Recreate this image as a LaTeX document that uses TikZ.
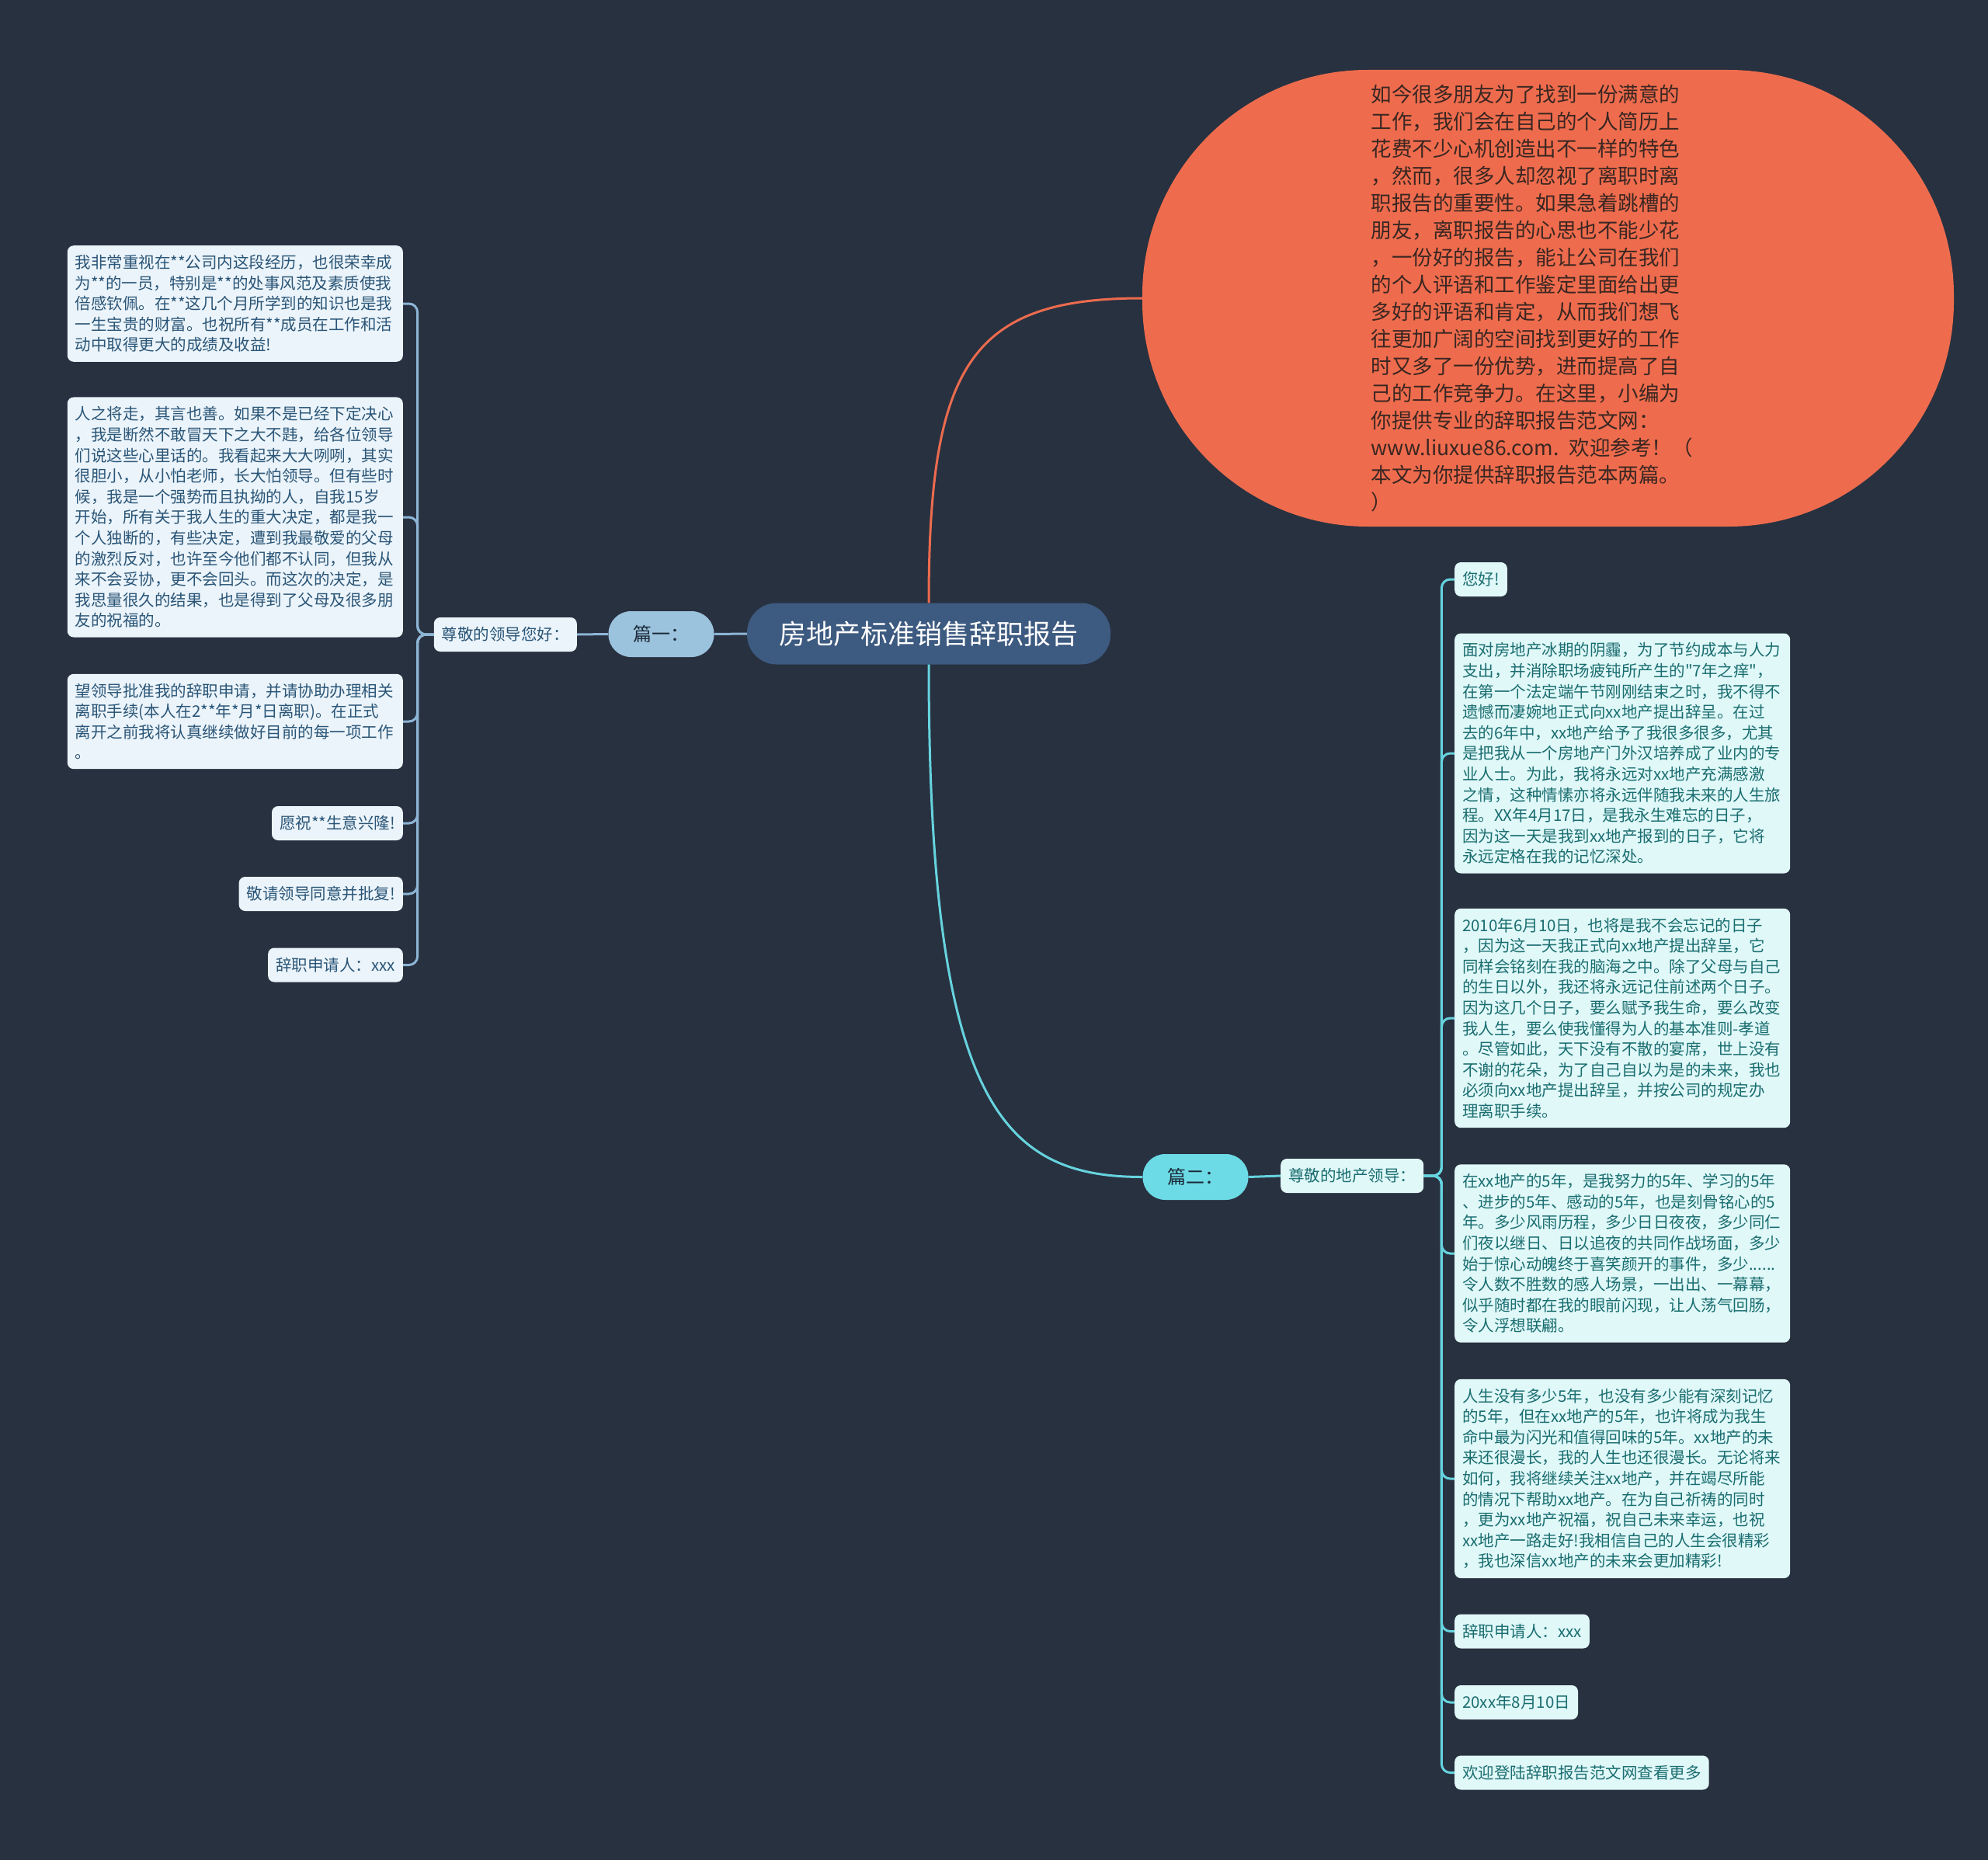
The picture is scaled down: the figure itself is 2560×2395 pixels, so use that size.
\documentclass[tikz,border=0pt]{standalone}
\usepackage{fontspec}
\setmainfont{Noto Sans CJK SC}[Ligatures=TeXOff]
\definecolor{bg}{HTML}{283140}
\definecolor{cfill}{HTML}{3D5A80}
\definecolor{p1fill}{HTML}{9CC3DE}
\definecolor{p2fill}{HTML}{6CDBE6}
\definecolor{ofill}{HTML}{EE6C4D}
\definecolor{otext}{HTML}{3A2622}
\definecolor{lfill}{HTML}{EBF4FA}
\definecolor{ltext}{HTML}{2A5577}
\definecolor{rfill}{HTML}{E0F8F8}
\definecolor{rtext}{HTML}{1A6D70}
\definecolor{lconn}{HTML}{8DB5D5}
\definecolor{rconn}{HTML}{66D3DE}
\definecolor{oconn}{HTML}{EC6B4E}
\definecolor{ptext}{HTML}{1C2A38}
\begin{document}
\begin{tikzpicture}[x=1pt,y=-1pt,
  leafbase/.style={rounded corners=8, font=\fontsize{20.5}{26.6}\selectfont, inner xsep=10, inner ysep=12, align=left},
  leafL/.style={leafbase, fill=lfill, text=ltext},
  leafR/.style={leafbase, fill=rfill, text=rtext},
  longbox/.style={text width=412},
  shortbox/.style={minimum height=44, inner ysep=0},
  topic/.style={fill=cfill, text=white, rounded corners=38, font=\fontsize{35}{40}\selectfont, minimum width=468, minimum height=79, inner sep=0},
  partbox/.style={text=ptext, rounded corners=29, font=\fontsize{24}{28}\selectfont, minimum width=136, minimum height=59, inner sep=0},
  lline/.style={draw=lconn, line width=3, rounded corners=11},
  rline/.style={draw=rconn, line width=3, rounded corners=11},
]
\useasboundingbox (0,0) rectangle (2560,2395);
\fill[bg] (0,0) rectangle (2560,2395);

% central
\node[topic] (c) at (1196,816) {房地产标准销售辞职报告};

% left branch
\node[partbox, fill=p1fill] (p1) at (851.5,816.5) {篇一：};
\node[leafL, shortbox, anchor=east] (lp) at (743,817) {尊敬的领导您好：};

\node[leafL, longbox, anchor=east] (l1) at (519,391) {我非常重视在**公司内这段经历，也很荣幸成\\为**的一员，特别是**的处事风范及素质使我\\倍感钦佩。在**这几个月所学到的知识也是我\\一生宝贵的财富。也祝所有**成员在工作和活\\动中取得更大的成绩及收益!};
\node[leafL, longbox, anchor=east] (l2) at (519,666) {人之将走，其言也善。如果不是已经下定决心\\，我是断然不敢冒天下之大不韪，给各位领导\\们说这些心里话的。我看起来大大咧咧，其实\\很胆小，从小怕老师，长大怕领导。但有些时\\候，我是一个强势而且执拗的人，自我15岁\\开始，所有关于我人生的重大决定，都是我一\\个人独断的，有些决定，遭到我最敬爱的父母\\的激烈反对，也许至今他们都不认同，但我从\\来不会妥协，更不会回头。而这次的决定，是\\我思量很久的结果，也是得到了父母及很多朋\\友的祝福的。};
\node[leafL, longbox, anchor=east] (l3) at (519,929) {望领导批准我的辞职申请，并请协助办理相关\\离职手续(本人在2**年*月*日离职)。在正式\\离开之前我将认真继续做好目前的每一项工作\\。};
\node[leafL, shortbox, anchor=east] (l4) at (519,1060) {愿祝**生意兴隆!};
\node[leafL, shortbox, anchor=east] (l5) at (519,1151) {敬请领导同意并批复!};
\node[leafL, shortbox, anchor=east] (l6) at (519,1242.5) {辞职申请人：xxx};

% orange intro
\node[fill=ofill, text=otext, rounded corners=290, minimum width=1045, minimum height=588, inner sep=0, text width=456, align=left, font=\fontsize{26.5}{35}\selectfont] (ob) at (1993.5,384) {如今很多朋友为了找到一份满意的\\工作，我们会在自己的个人简历上\\花费不少心机创造出不一样的特色\\，然而，很多人却忽视了离职时离\\职报告的重要性。如果急着跳槽的\\朋友，离职报告的心思也不能少花\\，一份好的报告，能让公司在我们\\的个人评语和工作鉴定里面给出更\\多好的评语和肯定，从而我们想飞\\往更加广阔的空间找到更好的工作\\时又多了一份优势，进而提高了自\\己的工作竞争力。在这里，小编为\\你提供专业的辞职报告范文网：\\www.liuxue86.com. 欢迎参考！（\\本文为你提供辞职报告范本两篇。\\）};

% right branch
\node[partbox, fill=p2fill] (p2) at (1539.5,1515.5) {篇二：};
\node[leafR, shortbox, anchor=west] (rp) at (1649,1514) {尊敬的地产领导：};

\node[leafR, shortbox, anchor=west] (r1) at (1873,746) {您好!};
\node[leafR, longbox, anchor=west] (r2) at (1873,970) {面对房地产冰期的阴霾，为了节约成本与人力\\支出，并消除职场疲钝所产生的"7年之痒"，\\在第一个法定端午节刚刚结束之时，我不得不\\遗憾而凄婉地正式向xx地产提出辞呈。在过\\去的6年中，xx地产给予了我很多很多，尤其\\是把我从一个房地产门外汉培养成了业内的专\\业人士。为此，我将永远对xx地产充满感激\\之情，这种情愫亦将永远伴随我未来的人生旅\\程。XX年4月17日，是我永生难忘的日子，\\因为这一天是我到xx地产报到的日子，它将\\永远定格在我的记忆深处。};
\node[leafR, longbox, anchor=west] (r3) at (1873,1311) {2010年6月10日，也将是我不会忘记的日子\\，因为这一天我正式向xx地产提出辞呈，它\\同样会铭刻在我的脑海之中。除了父母与自己\\的生日以外，我还将永远记住前述两个日子。\\因为这几个日子，要么赋予我生命，要么改变\\我人生，要么使我懂得为人的基本准则-孝道\\。尽管如此，天下没有不散的宴席，世上没有\\不谢的花朵，为了自己自以为是的未来，我也\\必须向xx地产提出辞呈，并按公司的规定办\\理离职手续。};
\node[leafR, longbox, anchor=west] (r4) at (1873,1614) {在xx地产的5年，是我努力的5年、学习的5年\\、进步的5年、感动的5年，也是刻骨铭心的5\\年。多少风雨历程，多少日日夜夜，多少同仁\\们夜以继日、日以追夜的共同作战场面，多少\\始于惊心动魄终于喜笑颜开的事件，多少......\\令人数不胜数的感人场景，一出出、一幕幕，\\似乎随时都在我的眼前闪现，让人荡气回肠，\\令人浮想联翩。};
\node[leafR, longbox, anchor=west] (r5) at (1873,1904) {人生没有多少5年，也没有多少能有深刻记忆\\的5年，但在xx地产的5年，也许将成为我生\\命中最为闪光和值得回味的5年。xx地产的未\\来还很漫长，我的人生也还很漫长。无论将来\\如何，我将继续关注xx地产，并在竭尽所能\\的情况下帮助xx地产。在为自己祈祷的同时\\，更为xx地产祝福，祝自己未来幸运，也祝\\xx地产一路走好!我相信自己的人生会很精彩\\，我也深信xx地产的未来会更加精彩!};
\node[leafR, shortbox, anchor=west] (r6) at (1873,2100.5) {辞职申请人：xxx};
\node[leafR, shortbox, anchor=west] (r7) at (1873,2192) {20xx年8月10日};
\node[leafR, shortbox, anchor=west] (r8) at (1873,2282.5) {欢迎登陆辞职报告范文网查看更多};

% connectors
\draw[oconn, line width=3] (c.north) .. controls (1196,470) and (1250,384) .. (ob.west);
\draw[rconn, line width=3] (c.south) .. controls (1196,1420) and (1290,1515.5) .. (p2.west);
\draw[lline] (c.west) -- (p1.east);
\draw[lline] (p1.west) -- (lp.east);
\foreach \n in {l1,l2,l3,l4,l5,l6}
  \draw[lline] (lp.west) -- ++(-21,0) |- (\n.east);
\draw[rline] (p2.east) -- (rp.west);
\foreach \n in {r1,r2,r3,r4,r5,r6,r7,r8}
  \draw[rline] (rp.east) -- ++(23,0) |- (\n.west);
\end{tikzpicture}
\end{document}
